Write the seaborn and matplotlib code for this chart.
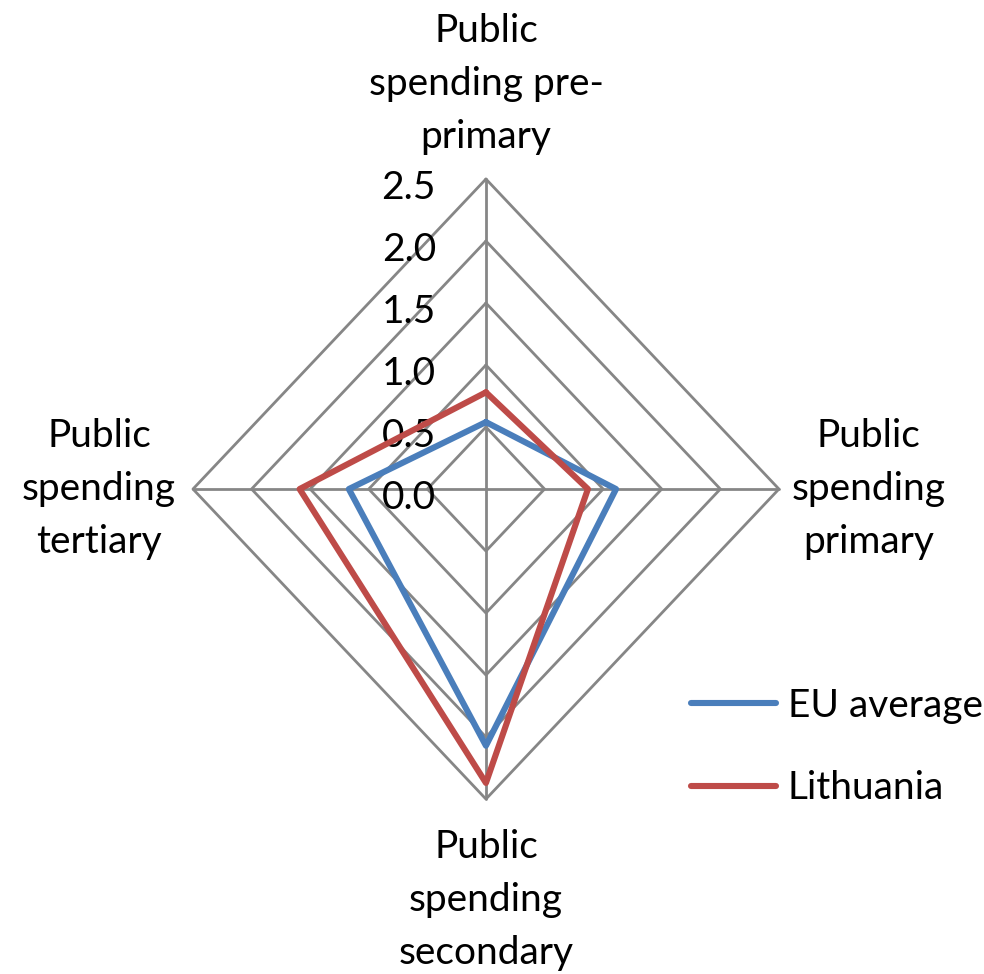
import numpy as np
import pandas as pd
import matplotlib.pyplot as plt
import seaborn as sns

sns.set_theme(style="white")
plt.rcParams['font.family'] = ['Lato', 'DejaVu Sans']
plt.rcParams['text.color'] = 'black'

# data
categories = ["Public\nspending pre-\nprimary", "Public\nspending\nprimary",
              "Public\nspending\nsecondary", "Public\nspending\ntertiary"]
eu_average = [0.54, 1.11, 2.07, 1.17]
lithuania = [0.78, 0.87, 2.37, 1.59]
levels = [0.5, 1.0, 1.5, 2.0, 2.5]
tick_labels = ["0.0", "0.5", "1.0", "1.5", "2.0", "2.5"]

blue = "#4A7EBB"
red = "#BE4B48"
grid_col = "#868686"

n = len(categories)
theta = np.arange(n) * 2 * np.pi / n
theta_closed = np.append(theta, 2 * np.pi)

rows = []
for name, vals in [("EU average", eu_average), ("Lithuania", lithuania)]:
    for t, v in zip(theta_closed, vals + vals[:1]):
        rows.append({"theta": t, "value": v, "series": name})
df = pd.DataFrame(rows)

fig = plt.figure(figsize=(9.84, 9.74), dpi=100)
ax = fig.add_axes([0.1961, 0.1796, 0.5955, 0.6366], projection="polar")
ax.set_aspect("auto")
ax.set_theta_offset(np.pi / 2)
ax.set_theta_direction(-1)
ax.set_ylim(0, 2.5)
ax.grid(False)
ax.set_xticks([])
ax.set_yticks([])
ax.spines["polar"].set_visible(False)
ax.patch.set_alpha(0)

# diamond grid + spokes
for lv in levels:
    ax.plot(theta_closed, [lv] * (n + 1), color=grid_col, lw=2.0, clip_on=False, zorder=1)
for t in theta:
    ax.plot([t, t], [0, 2.5], color=grid_col, lw=2.0, clip_on=False, zorder=1)

# radial tick labels along the top spoke
for i, lab in enumerate(tick_labels):
    ax.annotate(lab, xy=(0, i * 0.5), xytext=(-50, -9), textcoords="offset pixels",
                ha="right", va="center", fontsize=28, color="black", zorder=2)

sns.lineplot(data=df, x="theta", y="value", hue="series", sort=False,
             palette={"EU average": blue, "Lithuania": red}, linewidth=4.4,
             ax=ax, legend=False, zorder=3, clip_on=False)
ax.set_xlabel("")
ax.set_ylabel("")

# category labels
offsets = [(0, 95), (90, 0), (0, -101), (-94, 0)]
for t, lab, off in zip(theta, categories, offsets):
    ax.annotate(lab, xy=(t, 2.5), xytext=off, textcoords="offset pixels",
                ha="center", va="center", fontsize=28, linespacing=1.6,
                color="black", annotation_clip=False)

handles = [plt.Line2D([], [], color=blue, lw=4.4, solid_capstyle="round"),
           plt.Line2D([], [], color=red, lw=4.4, solid_capstyle="round")]
leg = fig.legend(handles, ["EU average", "Lithuania"], loc="center left",
                 bbox_to_anchor=(0.702, 0.233), frameon=False, fontsize=28,
                 handlelength=2.2, handletextpad=0.3, labelspacing=1.2, borderaxespad=0,
                 borderpad=0)
for txt in leg.get_texts():
    txt.set_color("black")

fig.savefig("out.png", dpi=100, facecolor="white")
